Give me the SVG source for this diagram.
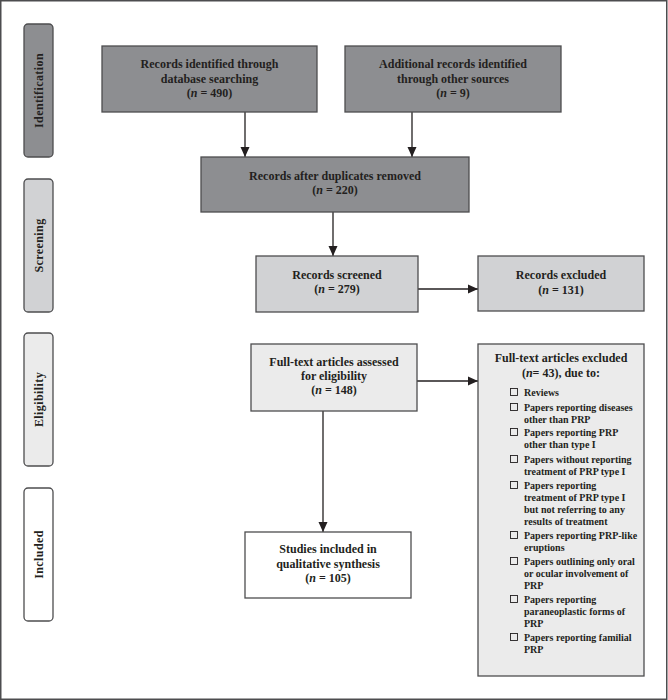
<svg xmlns="http://www.w3.org/2000/svg" width="668" height="700" viewBox="0 0 668 700">
<style>
  text { font-family: "Liberation Serif", "Times New Roman", serif; font-weight: bold; fill: #231f20; }
  .c { text-anchor: middle; font-size: 12px; }
  .side { text-anchor: middle; font-size: 12px; letter-spacing: 0.4px; }
  .box { stroke: #4d4d4f; stroke-width: 1.3; }
  .dark { fill: #8d8e91; }
  .mid { fill: #d1d2d4; }
  .light { fill: #ebebeb; }
  .white { fill: #ffffff; }
  .item { font-size: 10px; }
  .chk { fill: none; stroke: #231f20; stroke-width: 0.9; }
  .edge { stroke: #231f20; stroke-width: 1.3; fill: none; marker-end: url(#ah); }
  i, .it { font-style: italic; }
</style>
<defs>
  <marker id="ah" markerWidth="10" markerHeight="10" refX="10" refY="5" orient="auto" markerUnits="userSpaceOnUse">
    <path d="M0,0.5 L10,5 L0,9.5 Z" fill="#231f20"/>
  </marker>
</defs>

<rect x="0.75" y="0.75" width="666" height="698.5" fill="#ffffff" stroke="#4d4d4f" stroke-width="1.5"/>

<g id="stage-identification">
  <rect class="box dark" x="24" y="24" width="29" height="133" rx="4"/>
  <text class="side" transform="translate(42.5,90.5) rotate(-90)">Identification</text>
</g>
<g id="stage-screening">
  <rect class="box mid" x="24" y="179" width="29" height="133" rx="4"/>
  <text class="side" transform="translate(42.5,245.5) rotate(-90)">Screening</text>
</g>
<g id="stage-eligibility">
  <rect class="box light" x="24" y="333" width="29" height="133" rx="4"/>
  <text class="side" transform="translate(42.5,399.5) rotate(-90)">Eligibility</text>
</g>
<g id="stage-included">
  <rect class="box white" x="24" y="488" width="29" height="133" rx="4"/>
  <text class="side" transform="translate(42.5,554.5) rotate(-90)">Included</text>
</g>

<g id="connectors">
  <line class="edge" x1="245" y1="112" x2="245" y2="157"/>
  <line class="edge" x1="412" y1="112" x2="412" y2="157"/>
  <line class="edge" x1="333" y1="212" x2="333" y2="256"/>
  <line class="edge" x1="418" y1="289" x2="478" y2="289"/>
  <line class="edge" x1="417" y1="381" x2="478" y2="381"/>
  <line class="edge" x1="323" y1="411" x2="323" y2="532"/>
</g>

<g id="records-database">
  <rect class="box dark" x="102" y="46" width="215" height="66"/>
  <text class="c" x="209.5" y="68">Records identified through</text>
  <text class="c" x="209.5" y="83">database searching</text>
  <text class="c" x="209.5" y="97">(<tspan class="it">n</tspan> = 490)</text>
</g>

<g id="records-other">
  <rect class="box dark" x="345" y="46" width="216" height="66"/>
  <text class="c" x="453" y="68">Additional records identified</text>
  <text class="c" x="453" y="83">through other sources</text>
  <text class="c" x="453" y="97">(<tspan class="it">n</tspan> = 9)</text>
</g>

<g id="records-deduplicated">
  <rect class="box dark" x="201" y="157" width="268" height="55"/>
  <text class="c" x="335" y="180">Records after duplicates removed</text>
  <text class="c" x="335" y="194">(<tspan class="it">n</tspan> = 220)</text>
</g>

<g id="records-screened">
  <rect class="box mid" x="256" y="256" width="162" height="56"/>
  <text class="c" x="337" y="279">Records screened</text>
  <text class="c" x="337" y="293">(<tspan class="it">n</tspan> = 279)</text>
</g>

<g id="records-excluded">
  <rect class="box mid" x="478" y="256" width="166" height="55"/>
  <text class="c" x="561" y="279">Records excluded</text>
  <text class="c" x="561" y="294">(<tspan class="it">n</tspan> = 131)</text>
</g>

<g id="fulltext-assessed">
  <rect class="box light" x="251" y="344" width="166" height="67"/>
  <text class="c" x="334" y="366">Full-text articles assessed</text>
  <text class="c" x="334" y="380">for eligibility</text>
  <text class="c" x="334" y="394">(<tspan class="it">n</tspan> = 148)</text>
</g>

<g id="studies-included">
  <rect class="box white" x="245" y="532" width="166" height="66"/>
  <text class="c" x="328" y="553">Studies included in</text>
  <text class="c" x="328" y="568">qualitative synthesis</text>
  <text class="c" x="328" y="582">(<tspan class="it">n</tspan> = 105)</text>
</g>

<g id="fulltext-excluded">
  <rect class="box light" x="478" y="344" width="166" height="332"/>
  <text class="c" x="561" y="362">Full-text articles excluded</text>
  <text class="c" x="561" y="377">(<tspan class="it">n</tspan>= 43), due to:</text>

  <rect class="chk" x="510.5" y="388.5" width="7" height="7"/>
  <text class="item" x="524" y="396">Reviews</text>

  <rect class="chk" x="510.5" y="403.5" width="7" height="7"/>
  <text class="item" x="524" y="411">Papers reporting diseases</text>
  <text class="item" x="524" y="423">other than PRP</text>

  <rect class="chk" x="510.5" y="428.5" width="7" height="7"/>
  <text class="item" x="524" y="436">Papers reporting PRP</text>
  <text class="item" x="524" y="448">other than type I</text>

  <rect class="chk" x="510.5" y="455.5" width="7" height="7"/>
  <text class="item" x="524" y="463">Papers without reporting</text>
  <text class="item" x="524" y="475">treatment of PRP type I</text>

  <rect class="chk" x="510.5" y="481.5" width="7" height="7"/>
  <text class="item" x="524" y="489">Papers reporting</text>
  <text class="item" x="524" y="501">treatment of PRP type I</text>
  <text class="item" x="524" y="513">but not referring to any</text>
  <text class="item" x="524" y="525">results of treatment</text>

  <rect class="chk" x="510.5" y="531.5" width="7" height="7"/>
  <text class="item" x="524" y="539">Papers reporting PRP-like</text>
  <text class="item" x="524" y="551">eruptions</text>

  <rect class="chk" x="510.5" y="557.5" width="7" height="7"/>
  <text class="item" x="524" y="565">Papers outlining only oral</text>
  <text class="item" x="524" y="577">or ocular involvement of</text>
  <text class="item" x="524" y="589">PRP</text>

  <rect class="chk" x="510.5" y="595.5" width="7" height="7"/>
  <text class="item" x="524" y="603">Papers reporting</text>
  <text class="item" x="524" y="615">paraneoplastic forms of</text>
  <text class="item" x="524" y="627">PRP</text>

  <rect class="chk" x="510.5" y="633.5" width="7" height="7"/>
  <text class="item" x="524" y="641">Papers reporting familial</text>
  <text class="item" x="524" y="653">PRP</text>
</g>
</svg>
